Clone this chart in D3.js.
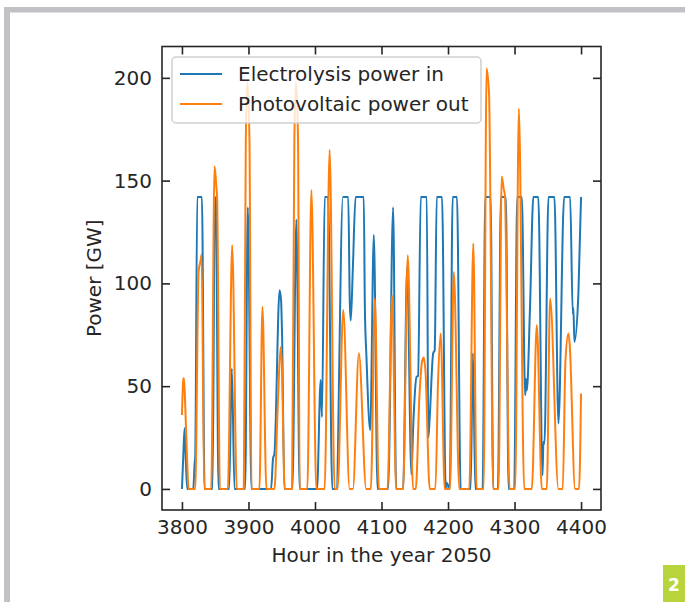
<!DOCTYPE html>
<html>

<head>
    <meta charset="utf-8">
    <title>Electrolysis vs photovoltaic</title>
    <script src="https://cdn.jsdelivr.net/npm/d3@7"></script>
    <style>
        body { margin: 0; background: #fff; }
        svg { display: block; font-family: 'DejaVu Sans', sans-serif; }
    </style>
</head>

<body>
    <svg width="685" height="602" id="mainsvg"></svg>
    <script>
        // values: [hour, GW]
        const electrolysisIn = [
            [3800, 0], [3802, 16], [3804, 29.5], [3806, 12], [3808, 0],
            [3817, 0], [3819, 12], [3820, 16], [3823, 142], [3830, 142], [3834, 0],
            [3846, 0], [3849.5, 142], [3851, 140], [3855, 0],
            [3871, 0], [3875, 58.6], [3879, 0],
            [3895, 0], [3899, 137], [3904.5, 0],
            [3934, 0], [3937, 15], [3939, 17], [3946.8, 96.7], [3949, 92], [3950.5, 75], [3954, 0],
            [3966, 0], [3972, 131], [3977, 0],
            [4003, 0], [4008.6, 53], [4010.5, 35], [4014.6, 142], [4019.6, 142], [4026, 0],
            [4032, 0], [4042, 142], [4050, 142], [4052.3, 91], [4053.8, 82], [4057, 108], [4061, 142],
            [4073.3, 142], [4075, 88], [4077.4, 64], [4083, 28.6], [4088.5, 123.5], [4094, 0],
            [4110, 0], [4117.5, 137], [4122, 0],
            [4132.5, 0], [4138.5, 108], [4145, 7], [4147.6, 30], [4152.7, 54.5], [4155, 55], [4159, 142],
            [4168, 142], [4170.5, 25], [4172.5, 35], [4177.7, 66], [4180, 67.5], [4183, 142], [4191, 142],
            [4196.5, 0], [4197.5, 3], [4200, 2], [4201, 0],
            [4202.6, 0], [4207, 142], [4213.5, 142], [4219, 0],
            [4234, 0], [4237.5, 66], [4241, 0],
            [4252, 0], [4256, 142], [4264, 142], [4268, 0],
            [4275, 0], [4279.5, 142], [4287, 142], [4291, 0],
            [4299.5, 0], [4304, 142], [4311, 142], [4316, 45.6], [4317.5, 53.5], [4318.5, 48], [4323.3, 88.6],
            [4328.3, 142], [4335.8, 142], [4342, 6.7], [4343.5, 23], [4345, 22], [4351, 142], [4360, 142],
            [4366, 31.8], [4374.6, 142], [4383.6, 142], [4387.6, 85], [4388.5, 88], [4390, 71.5], [4396, 95], [4400, 142]
        ];
        const photovoltaicOut = [
            [3800, 36], [3802, 53], [3803, 54], [3805, 40], [3808, 12], [3810, 0],
            [3820, 0], [3825, 106], [3828, 111], [3829.5, 114], [3833.5, 0],
            [3844, 0], [3849, 157], [3851.5, 148], [3853, 140], [3857, 0],
            [3869, 0], [3875.5, 118.6], [3882.5, 0],
            [3893, 0], [3896, 170], [3898.5, 198], [3901.5, 170], [3904.5, 0],
            [3916.5, 0], [3921, 88.6], [3927, 0],
            [3939, 0], [3944, 40], [3948.3, 69], [3950, 62], [3954.5, 0],
            [3965.5, 0], [3969, 170], [3971.5, 198], [3974.5, 170], [3977, 0],
            [3988.5, 0], [3994.6, 145.4], [4002, 0],
            [4014.5, 0], [4022, 165], [4029.5, 0],
            [4034, 0], [4042.5, 87], [4052, 0],
            [4057, 0], [4066, 66], [4077, 0],
            [4084, 0], [4090, 92.6], [4096, 0],
            [4109, 0], [4116, 94.2], [4122, 0],
            [4132.5, 0], [4139.5, 113.7], [4147.5, 0],
            [4151.5, 0], [4157, 45], [4161, 62], [4163.5, 64], [4166, 58], [4172.5, 0],
            [4181, 0], [4185, 52], [4189, 75.6], [4195, 0],
            [4203, 0], [4208.7, 105.6], [4217, 0],
            [4232, 0], [4238, 119.4], [4243, 0],
            [4253.5, 0], [4258, 204.6], [4261.7, 192], [4268, 0],
            [4276, 0], [4280.7, 152], [4284, 145.5], [4285.5, 143], [4292.5, 0],
            [4301, 0], [4306.5, 185], [4314.5, 0],
            [4326, 0], [4333.5, 79.7], [4341, 0],
            [4348.5, 0], [4353.5, 92.6], [4366, 0],
            [4372.5, 0], [4376.5, 62], [4381, 75.6], [4383, 70], [4391, 0], [4397, 0], [4400, 46.4]
        ];
        const seriesNames = ['Electrolysis power in', 'Photovoltaic power out'];
        const seriesColors = ['#1f77b4', '#ff7f0e'];
        const xTicks = [3800, 3900, 4000, 4100, 4200, 4300, 4400];
        const yTicks = [0, 50, 100, 150, 200];

        const svg = d3.select('svg');
        const W = +svg.attr('width');
        const H = +svg.attr('height');
        const ink = '#262626';

        // page decoration (gray frame + green page badge)
        svg.append('rect').attr('x', 4).attr('y', 7).attr('width', W - 4).attr('height', 5.5).attr('fill', '#c1c2c5');
        svg.append('rect').attr('x', 4).attr('y', 7).attr('width', 6).attr('height', H - 7).attr('fill', '#c1c2c5');
        svg.append('rect').attr('x', 663).attr('y', 565).attr('width', 22).attr('height', 37).attr('fill', '#b8d43c');
        svg.append('text').attr('x', 674).attr('y', 591).attr('text-anchor', 'middle')
            .attr('fill', '#fff').attr('font-weight', 'bold').attr('font-size', 17).text('2');

        const m = { left: 162, right: 601, top: 46.5, bottom: 510 };
        const x = d3.scaleLinear().domain([3770, 4430]).range([m.left, m.right]);
        const y = d3.scaleLinear().domain([-10.25, 215.25]).range([m.bottom, m.top]);

        svg.append('clipPath').attr('id', 'plotclip').append('rect')
            .attr('x', m.left).attr('y', m.top).attr('width', m.right - m.left).attr('height', m.bottom - m.top);

        const line = d3.line().x(d => x(d[0])).y(d => y(d[1])).curve(d3.curveMonotoneX);
        const plot = svg.append('g').attr('clip-path', 'url(#plotclip)');
        [electrolysisIn, photovoltaicOut].forEach((s, i) => {
            plot.append('path').datum(s).attr('d', line)
                .attr('fill', 'none').attr('stroke', seriesColors[i]).attr('stroke-width', 2)
                .attr('stroke-linejoin', 'round');
        });

        // axes: ticks inward on every side
        const styleAxis = g => {
            g.select('.domain').remove();
            g.selectAll('.tick line').attr('stroke', ink).attr('stroke-width', 1.6);
            g.selectAll('.tick text').attr('fill', ink).attr('font-size', 20)
                .attr('font-family', "'DejaVu Sans', sans-serif");
        };
        svg.append('g').attr('transform', `translate(0,${m.bottom})`)
            .call(d3.axisBottom(x).tickValues(xTicks).tickFormat(d3.format('d'))
                .tickSizeInner(-8).tickSizeOuter(0).tickPadding(10))
            .call(styleAxis);
        svg.append('g').attr('transform', `translate(0,${m.top})`)
            .call(d3.axisTop(x).tickValues(xTicks).tickSizeInner(-8).tickSizeOuter(0).tickFormat(''))
            .call(styleAxis);
        svg.append('g').attr('transform', `translate(${m.left},0)`)
            .call(d3.axisLeft(y).tickValues(yTicks).tickFormat(d3.format('d'))
                .tickSizeInner(-8).tickSizeOuter(0).tickPadding(10))
            .call(styleAxis);
        svg.append('g').attr('transform', `translate(${m.right},0)`)
            .call(d3.axisRight(y).tickValues(yTicks).tickSizeInner(-8).tickSizeOuter(0).tickFormat(''))
            .call(styleAxis);

        svg.append('rect').attr('x', m.left).attr('y', m.top)
            .attr('width', m.right - m.left).attr('height', m.bottom - m.top)
            .attr('fill', 'none').attr('stroke', ink).attr('stroke-width', 1.6);

        svg.append('text').attr('x', (m.left + m.right) / 2).attr('y', 562)
            .attr('text-anchor', 'middle').attr('fill', ink).attr('font-size', 20)
            .text('Hour in the year 2050');
        svg.append('text').attr('transform', `translate(101,${(m.top + m.bottom) / 2}) rotate(-90)`)
            .attr('text-anchor', 'middle').attr('fill', ink).attr('font-size', 20)
            .text('Power [GW]');

        // legend
        const lg = svg.append('g');
        lg.append('rect').attr('x', 172).attr('y', 57).attr('width', 309).attr('height', 66).attr('rx', 4)
            .attr('fill', '#fff').attr('fill-opacity', 0.8).attr('stroke', '#d0d0d0').attr('stroke-width', 1.5);
        seriesNames.forEach((name, i) => {
            const ly = 74 + i * 30;
            lg.append('line').attr('x1', 180).attr('x2', 222).attr('y1', ly).attr('y2', ly)
                .attr('stroke', seriesColors[i]).attr('stroke-width', 2);
            lg.append('text').attr('x', 238).attr('y', ly).attr('dy', '0.35em')
                .attr('fill', ink).attr('font-size', 20).text(name);
        });
    </script>
</body>

</html>
